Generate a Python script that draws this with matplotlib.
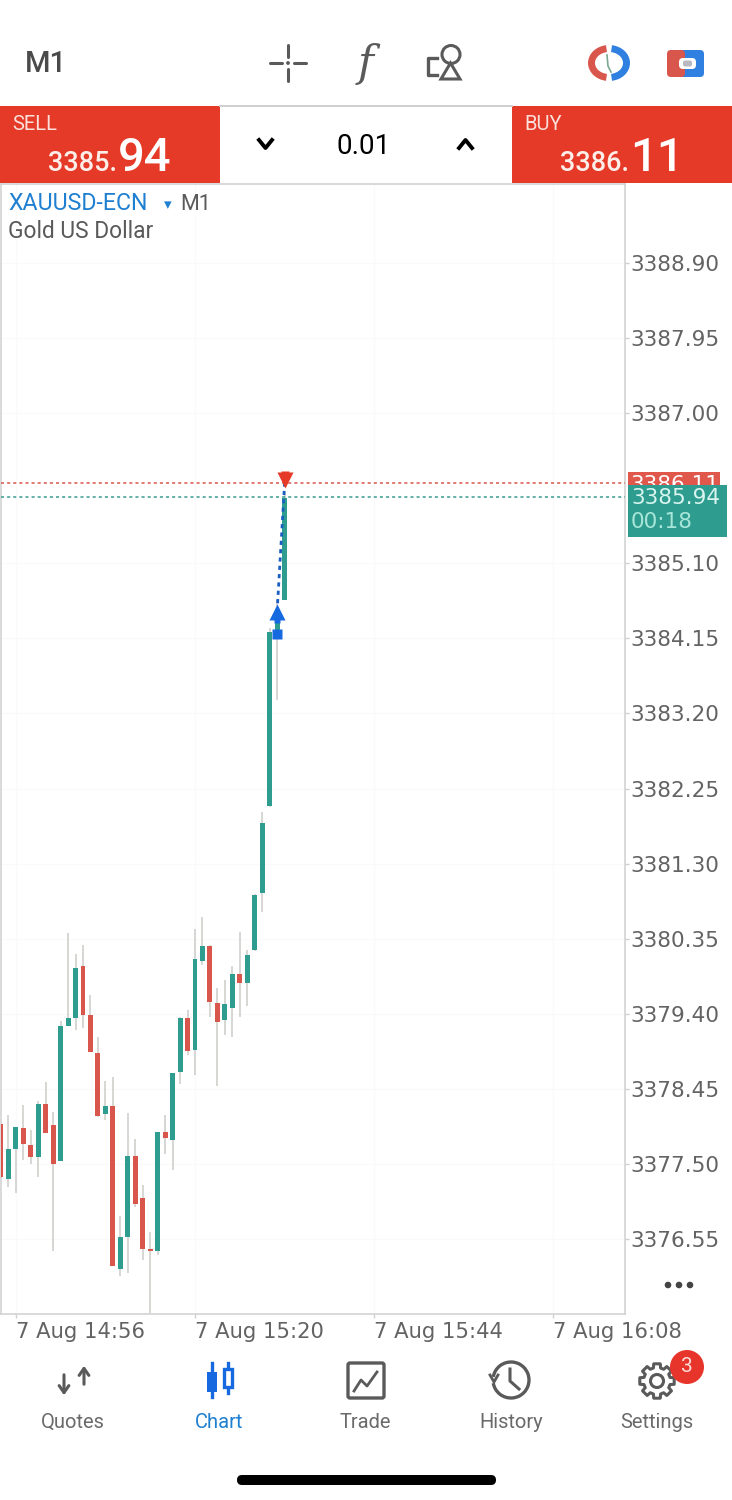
import numpy as np
import matplotlib
matplotlib.use('Agg')
import matplotlib.pyplot as plt
from matplotlib.patches import Rectangle, FancyBboxPatch, Circle, Arc, Polygon

# M1 candles
opens = [3378.01, 3377.31, 3377.69, 3377.96, 3377.74, 3377.59, 3378.26, 3377.99, 3377.53, 3379.25,
         3379.34, 3380.00, 3379.38, 3378.90, 3378.13, 3378.23, 3376.17, 3376.58, 3377.60, 3377.07,
         3376.42, 3376.40, 3377.90, 3377.80, 3378.66, 3379.35, 3378.94, 3380.07, 3380.26, 3379.54,
         3379.32, 3379.47, 3379.90, 3379.79, 3380.21, 3380.93, 3382.03, 3384.18, 3384.64]
closes = [3377.34, 3377.69, 3377.97, 3377.75, 3377.59, 3378.26, 3377.89, 3377.50, 3379.25, 3379.34,
          3379.98, 3379.38, 3378.91, 3378.11, 3378.23, 3376.21, 3376.57, 3377.60, 3376.99, 3376.42,
          3376.40, 3377.90, 3377.83, 3378.65, 3379.35, 3378.93, 3380.09, 3380.26, 3379.55, 3379.29,
          3379.52, 3379.90, 3379.79, 3380.14, 3380.90, 3381.81, 3384.23, 3384.38, 3385.93]
highs = [3378.01, 3378.12, 3377.97, 3378.25, 3377.93, 3378.29, 3378.54, 3378.15, 3379.31, 3380.42,
         3380.16, 3380.27, 3379.64, 3379.10, 3378.55, 3378.60, 3376.84, 3378.14, 3377.82, 3377.23,
         3376.64, 3377.90, 3378.12, 3378.65, 3379.36, 3379.45, 3380.47, 3380.63, 3380.27, 3379.72,
         3379.83, 3380.00, 3380.43, 3380.21, 3380.92, 3381.95, 3384.28, 3384.64, 3386.00]
lows = [3377.32, 3377.21, 3377.13, 3377.55, 3377.50, 3377.33, 3377.89, 3376.40, 3377.53, 3379.25,
        3379.19, 3379.22, 3378.91, 3378.09, 3378.05, 3376.21, 3376.08, 3376.12, 3376.96, 3376.28,
        3375.61, 3376.35, 3377.63, 3377.42, 3378.51, 3378.88, 3378.62, 3380.02, 3379.36, 3378.48,
        3379.13, 3379.10, 3379.36, 3379.50, 3380.19, 3380.69, 3382.02, 3383.37, 3384.64]

y_ticks = [3388.90, 3387.95, 3387.00, 3385.10, 3384.15, 3383.20, 3382.25, 3381.30,
           3380.35, 3379.40, 3378.45, 3377.50, 3376.55]
x_ticks = [2, 26, 50, 74]
x_labels = ['7 Aug 14:56', '7 Aug 15:20', '7 Aug 15:44', '7 Aug 16:08']
bid = 3385.94
ask = 3386.11
trade_bars = [37, 38]
trade_prices = [3384.49, 3386.11]
nav_names = ['Quotes', 'Chart', 'Trade', 'History', 'Settings']

GREEN = '#2f9c90'
RED = '#d9564c'
HEADER_RED = '#e53a28'
BLUE = '#1769e0'
GREY = '#5a5a5a'
UI = ['Roboto', 'DejaVu Sans']

fig = plt.figure(figsize=(7.32, 15), dpi=100, facecolor='white')

# chart area in the phone screen
ax = fig.add_axes([0.6 / 732, 1 - 1314 / 1500, 624.4 / 732, 1130 / 1500], zorder=1)
ax.set_xlim(-0.04, 83.6)
ax.set_ylim(3375.60, 3389.90)

for i in range(len(opens)):
    color = GREEN if closes[i] >= opens[i] else RED
    ax.vlines(i, lows[i], highs[i], color='#cfcfcc', lw=1.2, zorder=2)
    ax.bar(i, abs(closes[i] - opens[i]), bottom=min(opens[i], closes[i]), width=0.66,
           color=color, zorder=3)

ax.axhline(ask, color='#d9564c', ls=(0, (2, 2)), lw=1.1, zorder=4)
ax.axhline(bid, color='#3a9c90', ls=(0, (2, 2)), lw=1.1, zorder=4)

ax.plot(trade_bars, trade_prices, color='#1a5fc0', ls=(0, (1.5, 1.5)), lw=2, zorder=5)
ax.plot(trade_bars[0], trade_prices[0], marker='^', ms=11, color=BLUE, mec='none', zorder=6)
ax.plot(trade_bars[0], trade_prices[0] - 0.11, marker='s', ms=5, color=BLUE, mec='none', zorder=6)
ax.plot(trade_bars[0], trade_prices[0] - 0.28, marker='s', ms=6.5, color=BLUE, mec='none', zorder=6)
ax.plot(trade_bars[1], trade_prices[1] + 0.04, marker='v', ms=11, color=HEADER_RED, mec='none', zorder=6)
ax.plot(trade_bars[1], trade_prices[1] + 0.11, marker='s', ms=5.5, color=HEADER_RED, mec='none', zorder=6)

ax.yaxis.tick_right()
ax.set_yticks(y_ticks)
ax.set_yticklabels(['%.2f' % v for v in y_ticks], color='#636363', fontsize=15.6)
ax.set_xticks(x_ticks)
ax.set_xticklabels(x_labels, color='#636363', fontsize=15.2, ha='left')
ax.tick_params(axis='y', length=3, width=1, color='#cfcfcf', pad=1)
ax.tick_params(axis='x', length=3, width=1, color='#cfcfcf', pad=3)
ax.grid(True, color='#fafafa', lw=1)
ax.set_axisbelow(True)
for s in ax.spines.values():
    s.set_color('#cfcfcf')
    s.set_linewidth(1.1)

# everything around the chart, in screen pixels
ui = fig.add_axes([0, 0, 1, 1], zorder=2)
ui.set_xlim(0, 732)
ui.set_ylim(1500, 0)
ui.axis('off')
ui.patch.set_alpha(0)

ui.text(25, 64, 'M1', fontsize=21, color='#4a4a4a', family=UI, weight='medium', va='center')

# crosshair icon
for a, b in [((288, 45), (288, 57)), ((288, 69), (288, 81)), ((270, 63), (282, 63)), ((294, 63), (306, 63))]:
    ui.plot([a[0], b[0]], [a[1], b[1]], color=GREY, lw=2.2, solid_capstyle='round')
ui.add_patch(Circle((288, 63), 1.2, color=GREY))
ui.text(366, 64, 'f', fontsize=31, style='italic', color=GREY, family=['DejaVu Serif'], ha='center', va='center')

# objects icon
ui.add_patch(Circle((451, 54.5), 9, fill=False, ec=GREY, lw=2.2))
ui.add_patch(Polygon([(441, 79), (460, 79), (450.5, 63)], fill=False, ec=GREY, lw=2.2))
ui.plot([437, 428, 428, 437], [58, 58, 75, 75], color=GREY, lw=2.4)

# one-click and account icons
ui.add_patch(Arc((609, 63), 35, 29, theta1=100, theta2=260, color='#d9564c', lw=5))
ui.add_patch(Arc((609, 63), 35, 29, theta1=-80, theta2=80, color='#2f80e0', lw=5))
ui.plot([607, 608, 611], [55, 66, 72], color='#7aa890', lw=1.2)
ui.add_patch(FancyBboxPatch((669, 50), 35, 27, boxstyle='round,pad=0,rounding_size=4', fc='#2f80e0', ec='none'))
ui.add_patch(FancyBboxPatch((667, 50), 18, 27, boxstyle='round,pad=0,rounding_size=4', fc='#d9564c', ec='none'))
ui.add_patch(FancyBboxPatch((679, 58), 17, 11, boxstyle='round,pad=0,rounding_size=4', fc='white', ec='none'))
ui.add_patch(FancyBboxPatch((683, 60.5), 9, 6, boxstyle='round,pad=0,rounding_size=2', fc='#b8b8c0', ec='none'))

# order bar
ui.add_patch(Rectangle((0, 106), 220, 77, fc=HEADER_RED, ec='none'))
ui.add_patch(Rectangle((512, 106), 220, 77, fc=HEADER_RED, ec='none'))
ui.plot([220, 512], [105.5, 105.5], color='#cfcfcf', lw=1.4)
ui.text(12, 124, 'SELL', color='#fbe0da', fontsize=14.5, family=UI, va='center')
ui.text(524, 124, 'BUY', color='#fbe0da', fontsize=14.5, family=UI, va='center')
ui.text(117, 171, '3385.', color='#fdeeea', fontsize=19.5, family=UI, weight='medium', ha='right', va='baseline')
ui.text(118, 171, '94', color='white', fontsize=34, family=UI, weight='medium', ha='left', va='baseline')
ui.text(629, 171, '3386.', color='#fdeeea', fontsize=19.5, family=UI, weight='medium', ha='right', va='baseline')
ui.text(630, 171, '11', color='white', fontsize=34, family=UI, weight='medium', ha='left', va='baseline')
ui.text(364, 147, '0.01', color='black', fontsize=20, family=UI, ha='center', va='center')
ui.plot([259, 265.5, 272], [140, 148, 140], color='black', lw=2.8)
ui.plot([459, 465.5, 472], [148, 140, 148], color='black', lw=2.8)

# symbol caption
ui.text(8, 204, 'XAUUSD-ECN', color='#1f7fd0', fontsize=16.7, family=UI, va='center')
ui.text(168, 205, '▾', color='#1f7fd0', fontsize=11, family=['DejaVu Sans'], ha='center', va='center')
ui.text(180, 204, 'M1', color=GREY, fontsize=15.5, family=UI, va='center')
ui.text(8, 231, 'Gold US Dollar', color=GREY, fontsize=16.4, family=UI, va='center')

# price tags
ui.add_patch(Rectangle((628, 472), 92, 16, fc='#e0574c', ec='none', zorder=3))
ui.text(675, 485, '%.2f' % ask, color='white', fontsize=15.6, ha='center', va='center', zorder=4)
ui.add_patch(Rectangle((628, 485), 99, 52, fc='#2f9c90', ec='none', zorder=5))
ui.text(631, 498.5, '%.2f' % bid, color='#d8f5ef', fontsize=15.6, va='center', zorder=6)
ui.text(631, 522, '00:18', color='#a9e6da', fontsize=15.6, va='center', zorder=6)

for x in [668, 679, 690]:
    ui.add_patch(Circle((x, 1285), 2.6, color='#444444'))

# bottom navigation
nav_x = [73, 219, 365, 511, 657]
for name, x in zip(nav_names, nav_x):
    col = '#1f7fd0' if name == 'Chart' else '#6a6a6a'
    ui.text(x, 1428, name, color=col, fontsize=14.5, family=UI, ha='center', va='baseline')

ui.annotate('', xy=(64, 1398), xytext=(64, 1372), arrowprops=dict(arrowstyle='->,head_width=0.35,head_length=0.5', color=GREY, lw=2.2))
ui.annotate('', xy=(84, 1363), xytext=(84, 1387), arrowprops=dict(arrowstyle='->,head_width=0.35,head_length=0.5', color=GREY, lw=2.2))

# chart tab icon
ui.plot([212, 212], [1363, 1397], color=BLUE, lw=2.4)
ui.add_patch(Rectangle((207, 1372), 10, 20, fc=BLUE, ec='none'))
ui.plot([227.5, 227.5], [1363, 1393], color=BLUE, lw=2.4)
ui.add_patch(Rectangle((223.5, 1369), 8, 18, fc='white', ec=BLUE, lw=2.4, zorder=3))

ui.add_patch(FancyBboxPatch((348, 1363), 36, 35, boxstyle='round,pad=0,rounding_size=2', fill=False, ec=GREY, lw=2.4))
ui.plot([354, 361, 367, 377], [1391, 1380, 1386, 1372], color=GREY, lw=2)

ui.add_patch(Arc((511, 1380), 36, 36, theta1=-170, theta2=170, color=GREY, lw=2.4))
ui.plot([490, 494, 498], [1375, 1382, 1375], color=GREY, lw=2)
ui.plot([510, 510, 519], [1369, 1381, 1389], color=GREY, lw=2.2)

# gear outline, eight teeth
teeth = 8
step = 2 * np.pi / teeth
angles = []
radii = []
for k in range(teeth):
    a = k * step
    angles += [a - 0.24 * step, a + 0.24 * step, a + 0.34 * step, a + 0.66 * step]
    radii += [17.5, 17.5, 13.5, 13.5]
gear = np.column_stack([657 + np.array(radii) * np.cos(angles), 1381 + np.array(radii) * np.sin(angles)])
ui.add_patch(Polygon(gear, fill=False, ec=GREY, lw=2.2, joinstyle='round'))
ui.add_patch(Circle((657, 1381), 6.5, fc='white', ec=GREY, lw=2.2, zorder=3))
ui.add_patch(Circle((687, 1367), 17, fc='#e8352c', ec='none', zorder=4))
ui.text(687, 1367, '3', color='#fbdcd8', fontsize=15, family=UI, ha='center', va='center', zorder=5)

ui.add_patch(FancyBboxPatch((237, 1475), 259, 10, boxstyle='round,pad=0,rounding_size=5', fc='black', ec='none'))

fig.savefig('out.png', dpi=100)
